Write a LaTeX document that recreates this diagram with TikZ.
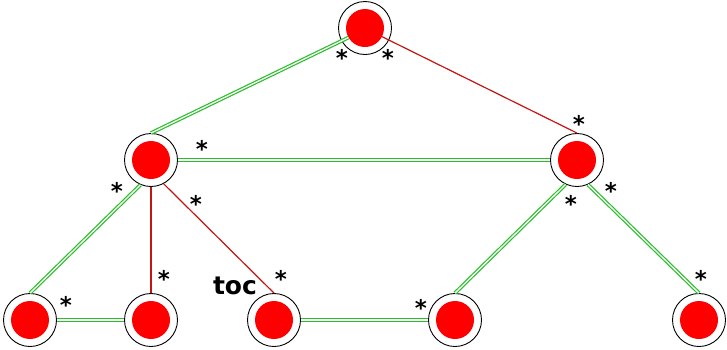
\documentclass[tikz,border=0pt]{standalone}
\usepackage{fontspec}
\newfontfamily\labfont{DejaVu Sans Bold}
\definecolor{edgegreen}{RGB}{40,190,40}
\definecolor{edgered}{RGB}{195,20,20}
\definecolor{vred}{RGB}{255,0,0}
\begin{document}
\begin{tikzpicture}[x=1pt,y=-1pt,
  vertex/.style={circle,draw=black,line width=0.9pt,minimum size=53pt,inner sep=0pt},
  core/.style={circle,fill=vred,minimum size=38pt,inner sep=0pt},
  gedge/.style={draw=edgegreen,double=white,line width=1.2pt,double distance=1.3pt},
  redge/.style={draw=edgered,line width=1.2pt},
  ast/.style={font=\labfont\fontsize{23}{23}\selectfont,inner sep=0pt,yshift=-4.6pt},
  lab/.style={font=\labfont\fontsize{25}{25}\selectfont,inner sep=0pt}]
\useasboundingbox (0,0) rectangle (727,349);
% vertices
\node[vertex] (T) at (365,28) {};
\node[vertex] (L) at (151,160) {};
\node[vertex] (R) at (577,160) {};
\node[vertex] (B1) at (30,320) {};
\node[vertex] (B2) at (151,320) {};
\node[vertex] (B3) at (274,320) {};
\node[vertex] (B4) at (455,320) {};
\node[vertex] (B5) at (699,320) {};
\foreach \n in {T,L,R,B1,B2,B3,B4,B5} {\node[core] (\n i) at (\n.center) {};}
% edges
\draw[gedge] (Ti.210) -- (L.north);
\draw[redge] (Ti.-27) -- (R.north);
\draw[gedge] (L.east) -- (R.west);
\draw[gedge] (L.-113) -- (B1.north);
\draw[redge] (L.south) -- (B2.north);
\draw[redge] (L.-62) -- (B3.north);
\draw[gedge] (B1.east) -- (B2.west);
\draw[gedge] (B3.east) -- (B4.west);
\draw[gedge] (R.-115) -- (B4.north);
\draw[gedge] (R.-66) -- (B5.north);
% labels
\node[ast] (a1) at (342,53) {*};
\node[ast] (a2) at (388,53) {*};
\node[ast] (a3) at (202,144) {*};
\node[ast] (a4) at (117,186) {*};
\node[ast] (a5) at (196,199) {*};
\node[ast] (a6) at (579,119) {*};
\node[ast] (a7) at (611,186) {*};
\node[ast] (a8) at (571,199) {*};
\node[ast] (a9) at (66,300) {*};
\node[ast] (a10) at (164,274) {*};
\node[ast] (a11) at (281,274) {*};
\node[ast] (a12) at (421,303) {*};
\node[ast] (a13) at (701,274) {*};
\node[lab] (toc) at (235,286) {toc};
\end{tikzpicture}
\end{document}
